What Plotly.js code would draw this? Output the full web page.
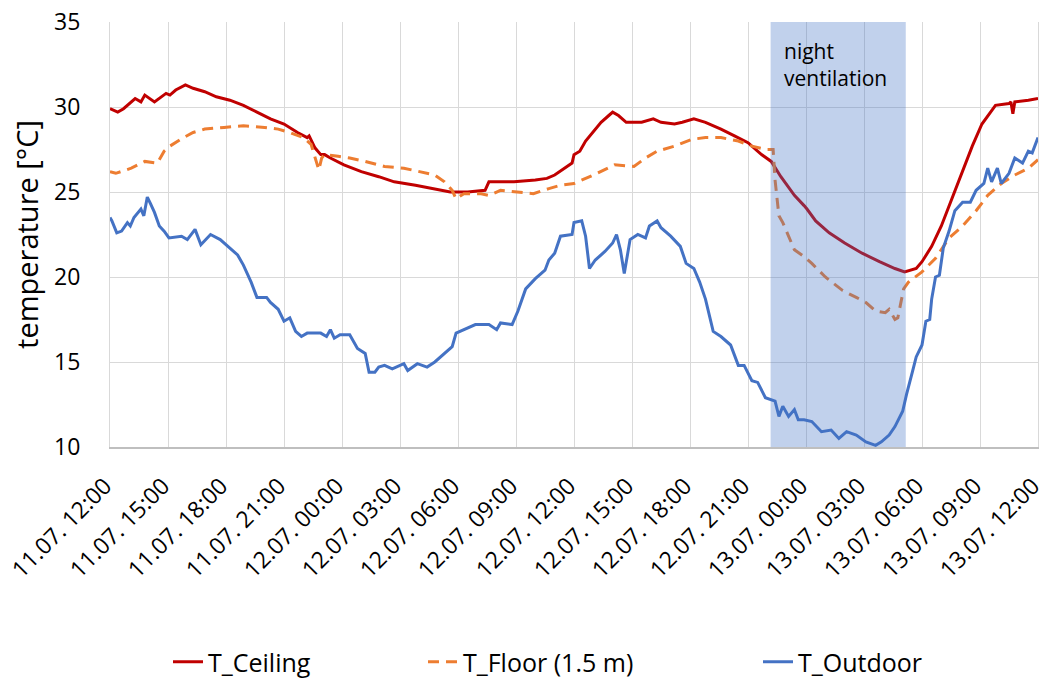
<!DOCTYPE html>
<html>
<head>
<meta charset="utf-8">
<script src="https://cdn.plot.ly/plotly-3.0.1.min.js"></script>
<style>html,body{margin:0;padding:0;background:#fff;}#chart{width:1044px;height:680px;}</style>
</head>
<body>
<div id="chart"></div>
<script>
// hours since 11.07. 12:00
const tickHours = [0,3,6,9,12,15,18,21,24,27,30,33,36,39,42,45,48];
const tickLabels = ["11.07. 12:00","11.07. 15:00","11.07. 18:00","11.07. 21:00","12.07. 00:00","12.07. 03:00","12.07. 06:00","12.07. 09:00","12.07. 12:00","12.07. 15:00","12.07. 18:00","12.07. 21:00","13.07. 00:00","13.07. 03:00","13.07. 06:00","13.07. 09:00","13.07. 12:00"];

const ceilingHours = [0,0.4,0.7,1.0,1.3,1.6,1.8,2.3,2.9,3.1,3.4,3.9,4.3,4.9,5.5,6.2,6.9,7.6,8.3,9.0,9.7,10.2,10.3,10.6,10.9,11.1,11.4,12.1,13.0,13.9,14.7,15.8,16.8,17.6,18.5,19.4,19.6,20.9,22.0,22.6,23.0,23.5,23.9,24.0,24.3,24.6,25.1,25.4,25.8,26.0,26.3,26.7,27.5,28.1,28.5,29.2,29.6,30.2,30.8,31.6,32.3,33.0,33.7,34.2,34.7,35.4,35.9,36.05,36.5,37.2,38.0,38.9,39.8,40.6,41.1,41.7,42.0,42.5,43.0,43.6,44.1,44.6,45.1,45.4,45.8,46.5,46.6,46.7,46.8,47.5,48];
const ceilingTemp = [29.9,29.7,29.9,30.2,30.5,30.3,30.7,30.3,30.8,30.7,31.0,31.3,31.1,30.9,30.6,30.4,30.1,29.7,29.3,29.0,28.5,28.2,28.3,27.6,27.2,27.2,27.0,26.6,26.2,25.9,25.6,25.4,25.2,25.0,25.0,25.1,25.6,25.6,25.7,25.8,26.0,26.4,26.7,27.2,27.4,28.0,28.7,29.1,29.5,29.7,29.5,29.1,29.1,29.3,29.1,29.0,29.1,29.3,29.1,28.7,28.3,27.9,27.2,26.8,25.9,24.8,24.2,24.0,23.3,22.6,22.0,21.4,20.9,20.5,20.3,20.5,20.9,21.8,23.0,24.8,26.3,27.7,29.0,29.5,30.1,30.2,30.3,29.6,30.3,30.4,30.5];

const floorHours = [0,0.3,1.1,1.8,2.45,2.8,3.1,3.8,4.3,4.9,5.9,6.9,8.0,8.7,9.3,10.0,10.4,10.6,10.8,10.95,11.1,11.8,12.4,13.2,14.2,15.2,16.3,16.8,17.3,17.7,17.9,18.3,19.2,19.6,20.2,21.0,21.9,22.7,23.3,24.0,24.6,25.2,26.1,27.1,27.7,28.3,29.2,30.1,30.8,31.6,32.5,33.2,33.9,34.3,34.4,34.6,34.8,35.1,35.4,35.9,36.3,37.0,37.9,38.6,39.1,39.6,40.1,40.3,40.6,40.75,40.9,41.05,41.3,42.0,42.7,43.4,44.1,44.8,45.4,46.1,46.8,47.5,48];
const floorTemp = [26.2,26.1,26.4,26.8,26.7,27.4,27.7,28.2,28.5,28.7,28.8,28.9,28.8,28.7,28.5,28.2,27.8,27.1,26.3,27.0,27.2,27.1,27.0,26.8,26.5,26.4,26.1,26.0,25.6,25.1,24.6,24.9,24.9,24.8,25.1,25.0,24.9,25.2,25.4,25.5,25.8,26.1,26.6,26.5,27.0,27.4,27.7,28.1,28.2,28.2,28.0,27.7,27.5,27.5,25.7,23.6,23.2,22.4,21.6,21.2,20.8,20.0,19.2,18.8,18.5,18.0,17.9,18.1,17.5,17.6,18.5,19.3,19.7,20.3,21.1,22.3,23.0,23.9,24.8,25.5,26.0,26.4,26.9];

const outdoorHours = [0,0.1,0.35,0.6,0.9,1.05,1.24,1.6,1.75,1.93,2.1,2.3,2.55,2.8,3.05,3.7,4.0,4.4,4.7,5.2,5.7,6.1,6.6,6.9,7.3,7.6,8.1,8.3,8.7,9.0,9.3,9.6,9.9,10.2,10.9,11.2,11.4,11.6,11.9,12.4,12.8,13.2,13.4,13.7,13.9,14.2,14.6,15.2,15.4,15.9,16.4,16.8,17.2,17.7,17.9,18.3,18.9,19.6,20.0,20.2,20.8,21.1,21.5,22.0,22.5,22.7,23.0,23.3,23.9,24.0,24.4,24.6,24.8,25.1,25.6,26.0,26.2,26.4,26.6,26.9,27.3,27.7,27.9,28.3,28.5,29.0,29.5,29.8,30.2,30.5,30.8,31.2,31.6,32.1,32.5,32.8,33.2,33.5,33.9,34.4,34.6,34.8,35.1,35.4,35.6,35.9,36.3,36.8,37.3,37.7,38.1,38.6,39.1,39.6,39.9,40.3,40.6,41.0,41.2,41.5,41.7,42.0,42.2,42.4,42.5,42.7,42.9,43.1,43.4,43.7,44.1,44.5,44.8,45.2,45.4,45.6,45.9,46.1,46.5,46.8,47.2,47.5,47.7,48];
const outdoorTemp = [23.5,23.3,22.6,22.7,23.2,23.0,23.5,24.0,23.6,24.7,24.3,23.8,23.0,22.7,22.3,22.4,22.2,22.8,21.9,22.5,22.2,21.8,21.3,20.7,19.7,18.8,18.8,18.5,18.1,17.4,17.6,16.8,16.5,16.7,16.7,16.5,16.9,16.4,16.6,16.6,15.8,15.5,14.4,14.4,14.7,14.8,14.6,14.9,14.5,14.9,14.7,15.0,15.4,15.9,16.7,16.9,17.2,17.2,16.9,17.3,17.2,18.0,19.3,19.9,20.4,21.0,21.4,22.4,22.5,23.2,23.3,22.4,20.5,21.0,21.5,22.0,22.5,21.6,20.2,22.2,22.5,22.3,23.0,23.3,22.9,22.4,21.8,20.8,20.5,19.7,18.7,16.8,16.5,16.0,14.8,14.8,13.9,13.8,12.9,12.7,11.8,12.4,11.8,12.2,11.6,11.6,11.5,10.9,11.0,10.5,10.9,10.7,10.3,10.1,10.3,10.7,11.2,12.1,13.1,14.4,15.3,16.0,17.4,17.5,18.7,20.0,20.1,21.7,22.7,23.9,24.4,24.4,25.1,25.5,26.4,25.6,26.4,25.5,26.1,27.0,26.7,27.4,27.3,28.2];

const ventStart = 34.17, ventEnd = 41.16;
const ventLabel = "night<br>ventilation";

const FONT = "Open Sans, Noto Sans, Liberation Sans, sans-serif";

const traces = [
  {x: ceilingHours, y: ceilingTemp, name: "T_Ceiling", type: "scatter", mode: "lines",
   line: {color: "#c00000", width: 3}, legend: "legend"},
  {x: floorHours, y: floorTemp, name: "T_Floor (1.5 m)", type: "scatter", mode: "lines",
   line: {color: "#ed7d31", width: 3, dash: "11px,7px"}, legend: "legend2"},
  {x: outdoorHours, y: outdoorTemp, name: "T_Outdoor", type: "scatter", mode: "lines",
   line: {color: "#4472c4", width: 3}, legend: "legend3"}
];

const legBase = {orientation: "h", xref: "container", yref: "container", yanchor: "middle",
  xanchor: "left", y: 1 - 662/680, font: {family: FONT, size: 25, color: "#000"},
  bgcolor: "rgba(0,0,0,0)", itemwidth: 30};

const layout = {
  width: 1044, height: 680,
  margin: {l: 110, r: 6, t: 22, b: 233},
  paper_bgcolor: "#fff", plot_bgcolor: "#fff",
  font: {family: FONT, color: "#000"},
  showlegend: true,
  legend: Object.assign({}, legBase, {x: 168/1044}),
  legend2: Object.assign({}, legBase, {x: 423/1044}),
  legend3: Object.assign({}, legBase, {x: 758/1044}),
  xaxis: {
    range: [0, 48], tickmode: "array", tickvals: tickHours, ticktext: tickLabels,
    tickangle: -45, showgrid: true, gridcolor: "#d9d9d9", gridwidth: 1,
    zeroline: false, showline: true, linecolor: "#bfbfbf", linewidth: 1.5,
    ticks: "", ticklabelstandoff: 15, ticklabelshift: -5, ticklabeloverflow: "allow",
    tickfont: {family: FONT, size: 23, color: "#000"}
  },
  yaxis: {
    range: [10, 35], tickvals: [10,15,20,25,30,35], showgrid: true, gridcolor: "#d9d9d9",
    zeroline: false, showline: true, mirror: true, linecolor: "#d9d9d9", linewidth: 1,
    ticks: "", ticklabelstandoff: 24,
    tickfont: {family: FONT, size: 23, color: "#000"},
    title: {text: "temperature [°C]", font: {family: FONT, size: 29, color: "#000"}, standoff: 6}
  },
  shapes: [{type: "rect", xref: "x", yref: "paper", x0: ventStart, x1: ventEnd, y0: 0, y1: 1,
    fillcolor: "rgba(68,114,196,0.33)", line: {width: 0}, layer: "above"}],
  annotations: [{xref: "x", yref: "y", x: ventStart + 0.6, y: 32.5, xanchor: "left", yanchor: "middle",
    align: "left", text: ventLabel, showarrow: false, font: {family: FONT, size: 21, color: "#000"}}]
};

Plotly.newPlot("chart", traces, layout, {staticPlot: true, displayModeBar: false});
</script>
</body>
</html>
